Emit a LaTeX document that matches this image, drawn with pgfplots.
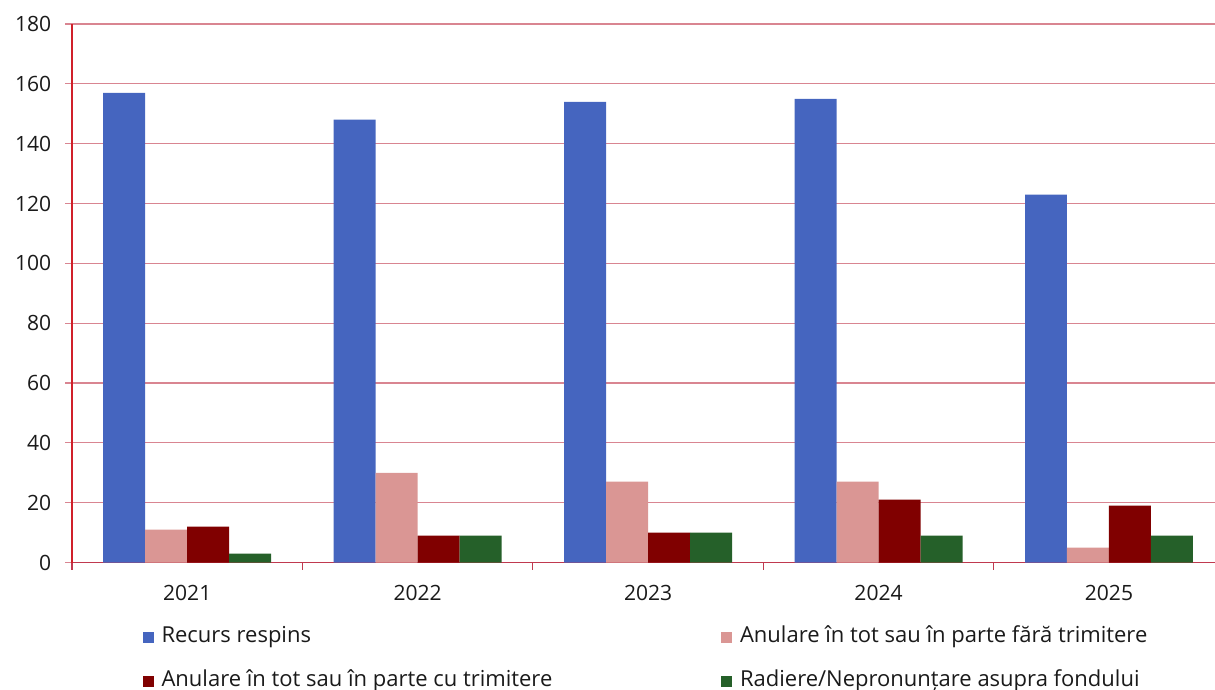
\documentclass[border=0pt]{standalone}
\usepackage{fontspec}
\setmainfont{Open Sans}
\usepackage{pgfplots}
\pgfplotsset{compat=1.18}
\definecolor{cblue}{HTML}{4565BF}
\definecolor{cpink}{HTML}{DA9694}
\definecolor{cdred}{HTML}{800000}
\definecolor{cgreen}{HTML}{256029}
\definecolor{cgrid}{HTML}{D98591}
\definecolor{caxisy}{HTML}{D0202A}
\definecolor{caxisx}{HTML}{C0394F}
\definecolor{ctext}{HTML}{1A1A1A}
\pgfplotsset{/pgfplots/ybar legend/.style={/pgfplots/legend image code/.code={\fill[##1] (0pt,-4pt) rectangle (8pt,4pt);}}}
\begin{document}
\begin{tikzpicture}
\useasboundingbox (-54pt,-95pt) rectangle (857.5pt,422pt);
\begin{axis}[
  at={(0,0)}, anchor=south west,
  scale only axis, width=864.4pt, height=404pt,
  ybar=0pt, bar width=31.5pt,
  xmin=-0.5, xmax=4.5, ymin=0, ymax=180,
  enlargelimits=false,
  axis lines*=left,
  x axis line style={color=caxisx, line width=0.8pt},
  y axis line style={color=caxisy, line width=0.8pt},
  xtick={0,1,2,3,4},
  xticklabels={2021,2022,2023,2024,2025},
  minor xtick={-0.5,0.5,1.5,2.5,3.5,4.5},
  major x tick style={draw=none},
  minor x tick style={color=caxisx, line width=0.8pt},
  minor tick length=5.5pt,
  ytick={0,20,...,180},
  major y tick style={color=cgrid, line width=0.8pt},
  major tick length=5pt,
  tick align=outside,
  ymajorgrids,
  major grid style={color=cgrid, line width=0.8pt},
  /pgf/number format/assume math mode=true,
  tick label style={font=\fontsize{15.8}{18}\selectfont, text=ctext},
  yticklabel style={xshift=-7pt},
  xticklabel style={yshift=-8.5pt},
  legend columns=2,
  legend cell align=left,
  legend style={draw=none, fill=none, at={(0,0)}, anchor=north west, xshift=53pt, yshift=-49pt,
    inner sep=0pt, row sep=19pt,
    nodes={inner sep=0pt, text height=11pt, text depth=3pt, font=\fontsize{16.5}{19}\selectfont, text=ctext},
    /tikz/every odd column/.append style={column sep=6pt}},
]
\addplot[fill=cblue, draw=none] coordinates {(0,157) (1,148) (2,154) (3,155) (4,123)};
\addlegendentry{\makebox[420pt][l]{Recurs respins}}
\addplot[fill=cpink, draw=none] coordinates {(0,11) (1,30) (2,27) (3,27) (4,5)};
\addlegendentry{Anulare în tot sau în parte fără trimitere}
\addplot[fill=cdred, draw=none] coordinates {(0,12) (1,9) (2,10) (3,21) (4,19)};
\addlegendentry{\makebox[420pt][l]{Anulare în tot sau în parte cu trimitere}}
\addplot[fill=cgreen, draw=none] coordinates {(0,3) (1,9) (2,10) (3,9) (4,9)};
\addlegendentry{Radiere/Nepronunțare asupra fondului}
\end{axis}
\end{tikzpicture}
\end{document}
